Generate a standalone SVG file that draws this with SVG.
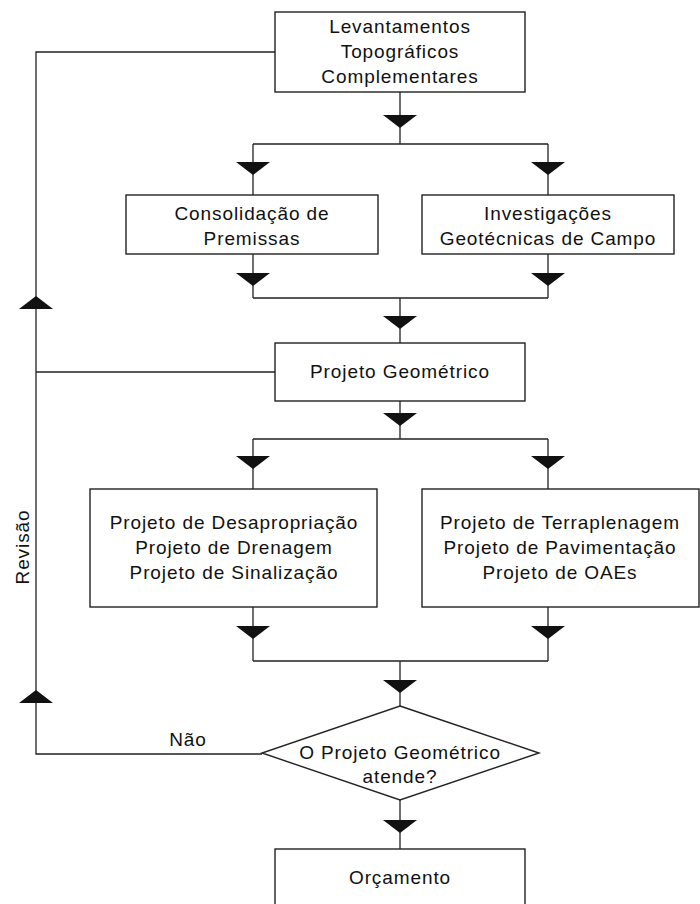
<svg xmlns="http://www.w3.org/2000/svg" xmlns:xlink="http://www.w3.org/1999/xlink" width="700" height="904" viewBox="0 0 700 904">
<style>
.box{fill:#fff;stroke:#222;stroke-width:1.4}
.ln{fill:none;stroke:#222;stroke-width:1.3}
.t{font-family:"Liberation Sans",Arial,sans-serif;font-size:19px;fill:#111;text-anchor:middle;letter-spacing:0.9px}
</style>
<defs>
<polygon id="ad" points="-17,0 17,0 0,13" fill="#111"/>
<polygon id="au" points="-17,0 17,0 0,-13" fill="#111"/>
</defs>
<rect width="700" height="904" fill="#fff"/>
<g id="connectors">
<path class="ln" d="M400,92 V144 M253,144 H548 M253,144 V195 M548,144 V195"/>
<path class="ln" d="M253,254 V298 M548,254 V298 M253,298 H548 M400,298 V343"/>
<path class="ln" d="M400,401 V439 M253,439 H548 M253,439 V489 M548,439 V489"/>
<path class="ln" d="M253,607 V661 M548,607 V661 M253,661 H548 M400,661 V706"/>
<path class="ln" d="M400,800 V849"/>
<path class="ln" d="M275,52 H36 V754 H262 M36,372 H275"/>
<use xlink:href="#ad" x="400" y="115"/>
<use xlink:href="#ad" x="253" y="162"/>
<use xlink:href="#ad" x="548" y="162"/>
<use xlink:href="#ad" x="253" y="273"/>
<use xlink:href="#ad" x="548" y="273"/>
<use xlink:href="#ad" x="400" y="316"/>
<use xlink:href="#ad" x="400" y="413"/>
<use xlink:href="#ad" x="253" y="456"/>
<use xlink:href="#ad" x="548" y="456"/>
<use xlink:href="#ad" x="253" y="626"/>
<use xlink:href="#ad" x="548" y="626"/>
<use xlink:href="#ad" x="400" y="680"/>
<use xlink:href="#ad" x="400" y="820"/>
<use xlink:href="#au" x="36" y="309"/>
<use xlink:href="#au" x="36" y="703"/>
<text class="t" x="188" y="746">Não</text>
<text class="t" x="29" y="547" transform="rotate(-90 29 547)">Revisão</text>
</g>
<g id="levantamentos">
<rect class="box" x="275" y="12" width="250" height="80"/>
<text class="t" x="400" y="33">Levantamentos</text>
<text class="t" x="400" y="58">Topográficos</text>
<text class="t" x="400" y="83">Complementares</text>
</g>
<g id="consolidacao">
<rect class="box" x="126" y="195" width="252" height="59"/>
<text class="t" x="252" y="220">Consolidação de</text>
<text class="t" x="252" y="245">Premissas</text>
</g>
<g id="investigacoes">
<rect class="box" x="422" y="195" width="252" height="59"/>
<text class="t" x="548" y="220">Investigações</text>
<text class="t" x="548" y="245">Geotécnicas de Campo</text>
</g>
<g id="geometrico">
<rect class="box" x="275" y="343" width="250" height="58"/>
<text class="t" x="400" y="378">Projeto Geométrico</text>
</g>
<g id="projetos-esq">
<rect class="box" x="90" y="489" width="287" height="118"/>
<text class="t" x="234" y="529">Projeto de Desapropriação</text>
<text class="t" x="234" y="554">Projeto de Drenagem</text>
<text class="t" x="234" y="579">Projeto de Sinalização</text>
</g>
<g id="projetos-dir">
<rect class="box" x="422" y="489" width="277" height="118"/>
<text class="t" x="560" y="529">Projeto de Terraplenagem</text>
<text class="t" x="560" y="554">Projeto de Pavimentação</text>
<text class="t" x="560" y="579">Projeto de OAEs</text>
</g>
<g id="decisao">
<polygon class="box" points="400,706 539,753 400,800 262,753"/>
<text class="t" x="400" y="759">O Projeto Geométrico</text>
<text class="t" x="400" y="783">atende?</text>
</g>
<g id="orcamento">
<rect class="box" x="275" y="849" width="250" height="64"/>
<text class="t" x="400" y="884">Orçamento</text>
</g>
</svg>
